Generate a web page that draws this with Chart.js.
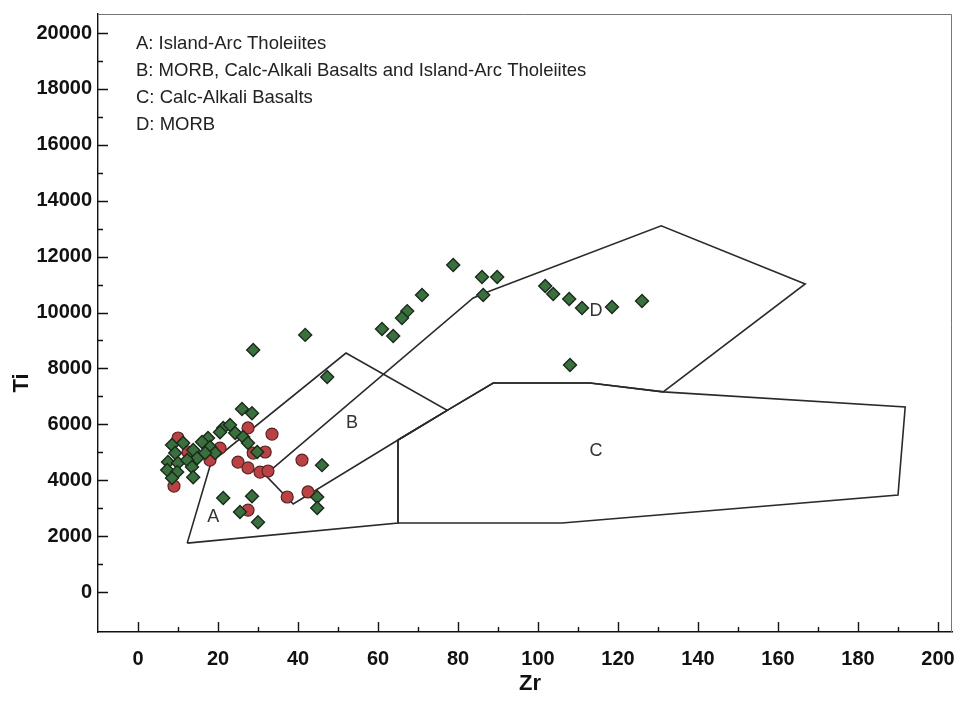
<!DOCTYPE html>
<html>
<head>
<meta charset="utf-8">
<script src="https://cdn.jsdelivr.net/npm/chart.js@4.4.1/dist/chart.umd.min.js"></script>
<style>
  html, body { margin: 0; padding: 0; background: #fff; }
  #wrap { width: 961px; height: 705px; }
</style>
</head>
<body>
<div id="wrap"><canvas id="tiZr"></canvas></div>
<script>
// samples, green diamonds
const zrGreen = [28.8, 41.8, 47.3, 26, 28.5, 78.8, 86, 89.8, 86.3, 71, 67.3, 66, 61, 63.8,
  101.8, 103.8, 107.8, 111, 118.5, 126, 108,
  46, 44.8, 44.8, 21.3, 28.5, 25.5, 30,
  21.3, 23, 24.3, 26.3, 27.5, 29.8, 16.8, 17.5, 18, 19.3, 16, 13.8, 14.8, 16.8, 11.3,
  8.5, 9.3, 7.5, 10, 12.3, 7.3, 9.8, 13.5, 8.5, 13.8, 20.5];
const tiGreen = [8660, 9200, 7690, 6550, 6400, 11700, 11270, 11270, 10630, 10630, 10050, 9800, 9410, 9160,
  10950, 10660, 10480, 10160, 10200, 10410, 8120,
  4540, 3400, 3010, 3360, 3430, 2860, 2500,
  5870, 5980, 5690, 5550, 5330, 5010, 5330, 5510, 5190, 4970, 5370, 5080, 4790, 4970, 5330,
  5260, 4970, 4650, 4620, 4720, 4370, 4290, 4470, 4080, 4110, 5720];

// samples, red circles
const zrRed = [10, 12.5, 18, 9, 20.5, 27.5, 33.5, 31.8, 28.8, 25, 27.5, 30.5, 32.5, 41, 37.3, 42.5, 27.5];
const tiRed = [5510, 5010, 4720, 3790, 5150, 5870, 5650, 5010, 4970, 4650, 4440, 4290, 4330, 4720, 3400, 3580, 2930];

// field outlines (Pearce & Cann)
const iatZr = [12.3, 18.3, 52, 77.3, 65, 65, 12.3];
const iatTi = [1750, 4650, 8550, 6500, 5440, 2470, 1750];
const morbZr = [31.8, 83.8, 88, 130.8, 166.8, 131.3, 113, 88.8, 77.3, 65, 38.8, 31.8];
const morbTi = [4190, 10520, 10770, 13100, 11020, 7160, 7480, 7480, 6500, 5440, 3150, 4190];
const cabZr = [65, 77.3, 88.8, 113, 131.3, 191.8, 190, 106, 65, 65];
const cabTi = [5440, 6500, 7480, 7480, 7160, 6620, 3470, 2470, 2470, 5440];

const fieldNames = ['A', 'B', 'C', 'D'];
const fieldZr = [18.8, 53.5, 114.5, 114.5];
const fieldTi = [2680, 6050, 5050, 10050];

const keyLines = ['A: Island-Arc Tholeiites',
  'B: MORB, Calc-Alkali Basalts and Island-Arc Tholeiites',
  'C: Calc-Alkali Basalts',
  'D: MORB'];

const zrTicks = [0, 20, 40, 60, 80, 100, 120, 140, 160, 180, 200];
const tiTicks = [0, 2000, 4000, 6000, 8000, 10000, 12000, 14000, 16000, 18000, 20000];

const FONT = 'Liberation Sans, Arial, sans-serif';

function pts(xs, ys) {
  return xs.map((x, i) => ({ x: x, y: ys[i] }));
}

function outline(xs, ys) {
  return {
    data: pts(xs, ys),
    showLine: true,
    borderColor: '#2a2a2a',
    borderWidth: 1.6,
    pointRadius: 0,
    fill: false,
    tension: 0
  };
}

// inward ticks, frame, key and field letters
const extras = {
  id: 'extras',
  beforeDatasetsDraw(chart) {
    const c = chart.ctx, a = chart.chartArea;
    const xs = chart.scales.x, ys = chart.scales.y;
    c.save();
    c.strokeStyle = '#777';
    c.lineWidth = 1;
    c.beginPath();
    c.moveTo(a.left, a.top + 0.5); c.lineTo(a.right - 0.5, a.top + 0.5); c.lineTo(a.right - 0.5, a.bottom);
    c.stroke();
    c.strokeStyle = '#111';
    c.lineWidth = 1.4;
    c.beginPath();
    for (let v = 0; v <= 200; v += 10) {
      const px = Math.round(xs.getPixelForValue(v)) + 0.5;
      const len = v % 20 === 0 ? 10 : 5;
      c.moveTo(px, a.bottom); c.lineTo(px, a.bottom - len);
    }
    for (let v = 0; v <= 20000; v += 1000) {
      const py = Math.round(ys.getPixelForValue(v)) + 0.5;
      const len = v % 2000 === 0 ? 10 : 5;
      c.moveTo(a.left, py); c.lineTo(a.left + len, py);
    }
    c.stroke();

    c.fillStyle = '#222';
    c.font = '18.5px ' + FONT;
    c.textBaseline = 'middle';
    keyLines.forEach((t, i) => c.fillText(t, 136, 44 + i * 27));

    c.fillStyle = '#333';
    c.font = '18px ' + FONT;
    c.textAlign = 'center';
    fieldNames.forEach((t, i) => {
      c.fillText(t, xs.getPixelForValue(fieldZr[i]), ys.getPixelForValue(fieldTi[i]));
    });

    c.fillStyle = '#111';
    c.font = 'bold 22px ' + FONT;
    c.fillText('Zr', (a.left + a.right) / 2 + 5, 684);
    c.translate(22, (a.top + a.bottom) / 2 + 60);
    c.rotate(-Math.PI / 2);
    c.fillText('Ti', 0, 0);
    c.restore();
  }
};

let ctx = document.getElementById('tiZr').getContext('2d');
let tiZrChart = new Chart(ctx, {
  type: 'scatter',
  data: {
    datasets: [{
      label: 'green',
      data: pts(zrGreen, tiGreen),
      pointStyle: 'rectRot',
      pointRadius: 6.5,
      backgroundColor: '#3a6f3e',
      borderColor: '#1b2a1b',
      borderWidth: 1.4
    }, {
      label: 'red',
      data: pts(zrRed, tiRed),
      pointStyle: 'circle',
      pointRadius: 6,
      backgroundColor: '#bb4244',
      borderColor: '#5a2222',
      borderWidth: 1.2
    },
    outline(iatZr, iatTi),
    outline(morbZr, morbTi),
    outline(cabZr, cabTi)]
  },
  options: {
    responsive: true,
    maintainAspectRatio: false,
    animation: false,
    layout: { autoPadding: false, padding: { left: 0, top: 14, right: 9, bottom: 0 } },
    plugins: { legend: { display: false }, tooltip: { enabled: false } },
    scales: {
      x: {
        type: 'linear',
        min: -10,
        max: 203.5,
        afterBuildTicks: s => { s.ticks = zrTicks.map(v => ({ value: v })); },
        afterFit: s => { s.height = 73; s.paddingLeft = 0; s.paddingRight = 0; },
        grid: { display: false, drawTicks: false },
        border: { display: true, color: '#111', width: 1.4 },
        ticks: {
          color: '#111', padding: 15, maxRotation: 0,
          font: { family: FONT, size: 20, weight: 'bold' },
          callback: v => String(v)
        }
      },
      y: {
        type: 'linear',
        min: -1430,
        max: 20680,
        afterBuildTicks: s => { s.ticks = tiTicks.map(v => ({ value: v })); },
        afterFit: s => { s.width = 98; s.paddingTop = 0; s.paddingBottom = 0; },
        grid: { display: false, drawTicks: false },
        border: { display: true, color: '#111', width: 1.4 },
        ticks: {
          color: '#111', padding: 6,
          font: { family: FONT, size: 20, weight: 'bold' },
          callback: v => String(v)
        }
      }
    }
  },
  plugins: [extras]
});
</script>
</body>
</html>
